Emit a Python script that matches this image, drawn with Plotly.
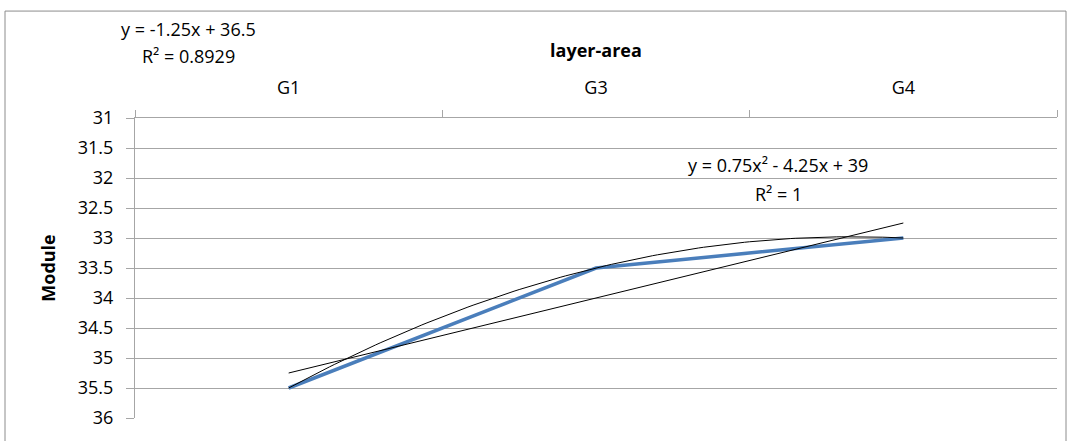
import numpy as np
import plotly.graph_objects as go

# Layer areas and their module values
categories = ["G1", "G3", "G4"]
module = [35.5, 33.5, 33.0]
x_index = [1, 2, 3]

y_ticks = [31, 31.5, 32, 32.5, 33, 33.5, 34, 34.5, 35, 35.5, 36]

# Trend lines fitted to the series (linear and 2nd order polynomial)
lin = np.polyfit(x_index, module, 1)
quad = np.polyfit(x_index, module, 2)
xs = np.linspace(1, 3, 121)
lin_y = np.polyval(lin, xs)
quad_y = np.polyval(quad, xs)

FONT = "Open Sans"
FS = 18
GRID = "#a6a6a6"

fig = go.Figure()

fig.add_trace(go.Scatter(
    x=categories, y=module, mode="lines",
    line=dict(color="#4a7ebb", width=3.5),
    xaxis="x", yaxis="y", showlegend=False, hoverinfo="x+y",
))
fig.add_trace(go.Scatter(
    x=xs, y=quad_y, mode="lines",
    line=dict(color="#000000", width=1),
    xaxis="x2", yaxis="y", showlegend=False,
))
fig.add_trace(go.Scatter(
    x=xs, y=lin_y, mode="lines",
    line=dict(color="#000000", width=1),
    xaxis="x2", yaxis="y", showlegend=False,
))

L, R, T, B = 135, 14, 118, 20
W, H = 1071, 441
pw, ph = W - L - R, H - T - B

def px_x(px):
    return (px - L) / pw

def px_y(py):
    return 1 - (py - T) / ph

def label(text, x, y):
    return dict(text=text, xref="paper", yref="paper", x=px_x(x), y=px_y(y),
                xanchor="center", yanchor="middle",
                showarrow=False, align="center",
                font=dict(family=FONT, size=FS, color="#000000"))

fig.update_layout(
    width=W, height=H,
    margin=dict(l=L, r=R, t=T, b=B, pad=0),
    paper_bgcolor="white", plot_bgcolor="white",
    font=dict(family=FONT, size=FS, color="#000000"),
    xaxis=dict(
        type="category", side="top", range=[-0.5, 2.5],
        tickson="boundaries", ticks="outside", ticklen=7, tickcolor=GRID,
        showline=True, linecolor=GRID, linewidth=1,
        showgrid=False, zeroline=False,
        ticklabelstandoff=16,
        tickfont=dict(family=FONT, size=FS),
        title=dict(text="<b>layer-area</b>", font=dict(family=FONT, size=FS), standoff=12),
    ),
    xaxis2=dict(
        overlaying="x", range=[0.5, 3.5], visible=False,
    ),
    yaxis=dict(
        range=[36, 31], tickvals=y_ticks,
        ticktext=[f"{v:g}" for v in y_ticks],
        ticks="outside", ticklen=8, tickcolor=GRID,
        showline=True, linecolor=GRID, linewidth=1,
        showgrid=True, gridcolor=GRID, gridwidth=1, zeroline=False,
        ticklabelstandoff=9,
        tickfont=dict(family=FONT, size=FS),
        title=dict(text="<b>Module</b>", font=dict(family=FONT, size=FS), standoff=17),
    ),
    shapes=[dict(
        type="rect", xref="paper", yref="paper",
        x0=px_x(5), x1=px_x(1066), y0=px_y(445), y1=px_y(10),
        line=dict(color="#8c8c8c", width=1), layer="below",
    )],
    annotations=[
        label("y = -1.25x + 36.5", 188, 28),
        label("R² = 0.8929", 188, 55),
        label("y = 0.75x² - 4.25x + 39", 778, 165),
        label("R² = 1", 778, 195),
    ],
)

fig.write_html("out.html")
